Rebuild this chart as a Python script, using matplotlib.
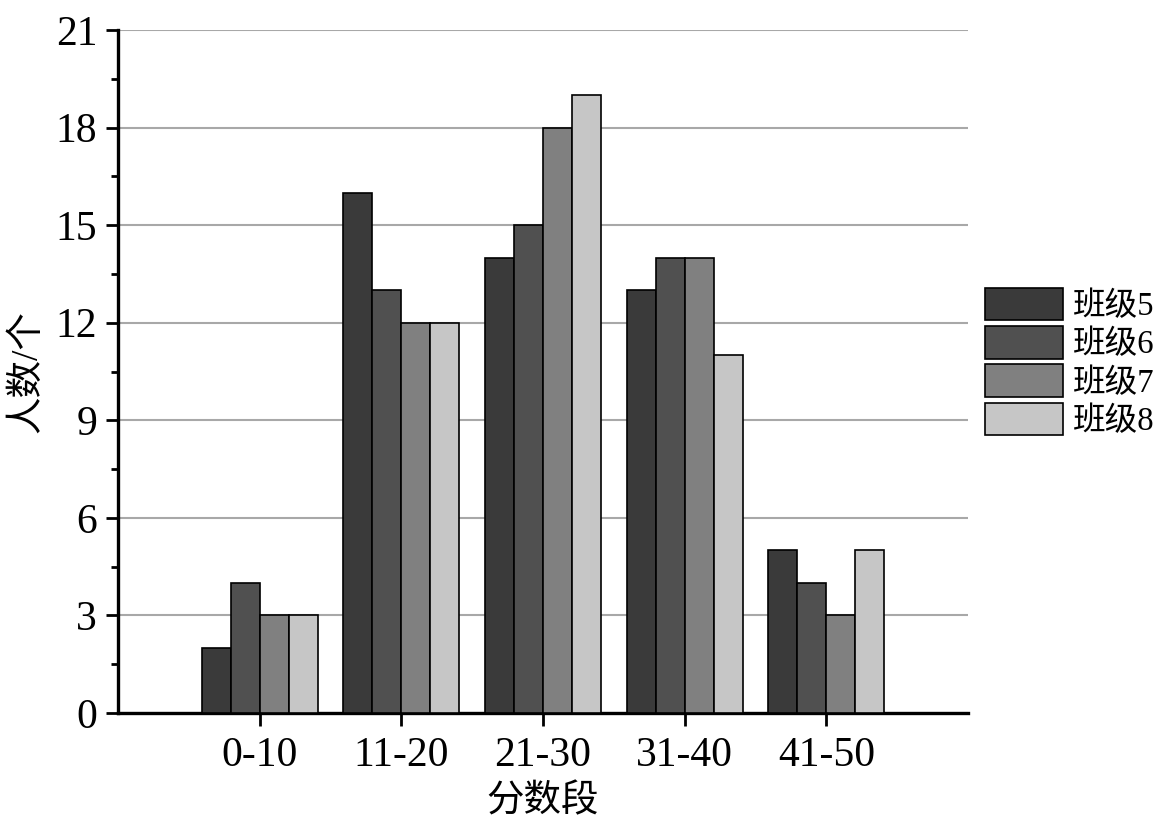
import numpy as np
import matplotlib.pyplot as plt
from matplotlib.ticker import MultipleLocator

plt.rcParams['font.family'] = ['Liberation Serif', 'Noto Sans CJK SC']

# 数据
categories = ["0-10", "11-20", "21-30", "31-40", "41-50"]
class_names = ["班级5", "班级6", "班级7", "班级8"]
class5 = [2, 16, 14, 13, 5]
class6 = [4, 13, 15, 14, 4]
class7 = [3, 12, 18, 14, 3]
class8 = [3, 12, 19, 11, 5]
series = [class5, class6, class7, class8]
colors = ["#3a3a3a", "#505050", "#808080", "#c6c6c6"]

W, H = 1175, 835
fig = plt.figure(figsize=(W / 100, H / 100), dpi=100)
ax = fig.add_axes([118 / W, 1 - 713 / H, (968 - 118) / W, (713 - 30) / H])

x = np.arange(1, len(categories) + 1)
bw = 0.205
for i, (vals, name, c) in enumerate(zip(series, class_names, colors)):
    ax.bar(x + (i - 1.5) * bw, vals, width=bw, color=c, edgecolor="black",
           linewidth=1.2, label=name, zorder=3)

ax.set_xlim(0, 6)
ax.set_ylim(0, 21)
ax.set_xticks(x)
ax.set_xticklabels(categories)
ax.yaxis.set_major_locator(MultipleLocator(3))
ax.yaxis.set_minor_locator(MultipleLocator(1.5))
ax.grid(axis="y", color="#a8a8a8", linewidth=1.5, zorder=0)
ax.set_axisbelow(True)

for s in ["top", "right"]:
    ax.spines[s].set_visible(False)
for s in ["left", "bottom"]:
    ax.spines[s].set_linewidth(2.4)

ax.tick_params(axis="both", which="major", direction="out", length=9, width=2.0,
               labelsize=30, pad=6)
ax.tick_params(axis="x", which="major", pad=8)
ax.tick_params(axis="y", which="minor", direction="out", length=5, width=2.0)

ax.set_xlabel("分数段", fontsize=27, labelpad=6)
ax.set_ylabel("人数/个", fontsize=27, labelpad=8)

fig.legend(loc="upper left", bbox_to_anchor=(985 / W, 1 - 288 / H),
           frameon=False, fontsize=23.5, handlelength=2.4, handleheight=1.15,
           labelspacing=0.12, handletextpad=0.3, borderpad=0, borderaxespad=0)

fig.savefig("out.png", dpi=100)
